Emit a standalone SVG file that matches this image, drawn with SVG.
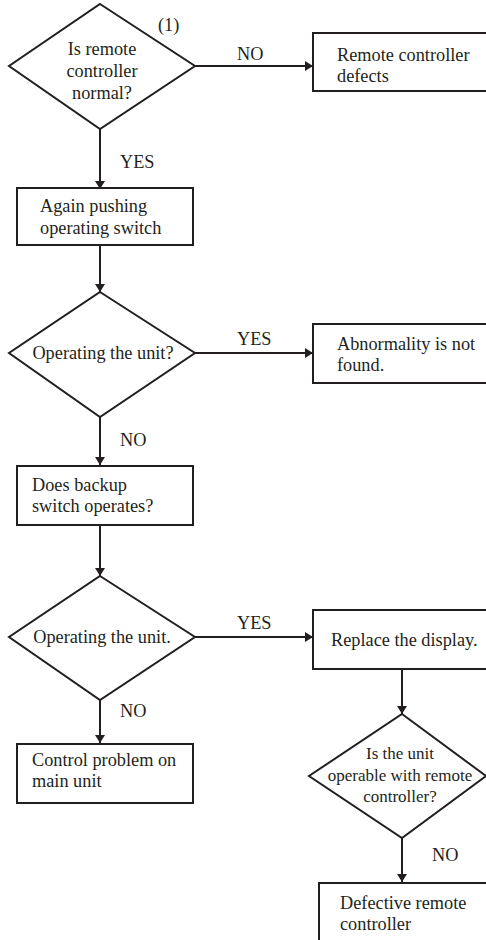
<svg xmlns="http://www.w3.org/2000/svg" width="486" height="940" viewBox="0 0 486 940">
<style>
.n{fill:#fff;stroke:#231f20;stroke-width:2}
.t{font-family:"Liberation Serif","Times New Roman",serif;font-size:18.3px;fill:#231f20}
.s{font-size:17px}
.m{text-anchor:middle}
.c{stroke:#231f20;stroke-width:2;fill:none;marker-end:url(#a)}
</style>
<defs>
<marker id="a" markerWidth="8" markerHeight="12" refX="8" refY="6" orient="auto" markerUnits="userSpaceOnUse">
<path d="M0,1 L8,6 L0,11 Z" fill="#231f20"/>
</marker>
</defs>
<rect width="486" height="940" fill="#fff"/>
<g id="connectors">
<path class="c" d="M100,129 V189"/>
<path class="c" d="M195,66 H313"/>
<path class="c" d="M100,245 V292"/>
<path class="c" d="M195,353 H313"/>
<path class="c" d="M100,417 V465"/>
<path class="c" d="M100,525 V576"/>
<path class="c" d="M195,637 H313"/>
<path class="c" d="M100,700 V743"/>
<path class="c" d="M402,669 V714"/>
<path class="c" d="M402,838 V882"/>
<text class="t" x="237" y="60">NO</text>
<text class="t" x="120" y="168">YES</text>
<text class="t" x="237" y="345">YES</text>
<text class="t" x="120" y="446">NO</text>
<text class="t" x="237" y="629">YES</text>
<text class="t" x="120" y="717">NO</text>
<text class="t" x="432" y="861">NO</text>
</g>
<g id="d1">
<path class="n" d="M100,4 L195,66 L100,129 L9,66 Z"/>
<text class="t" x="158" y="31">(1)</text>
<text class="t m" x="102" y="55">Is remote</text>
<text class="t m" x="102" y="77">controller</text>
<text class="t m" x="102" y="99">normal?</text>
</g>
<g id="b1">
<rect class="n" x="313" y="33" width="180" height="58"/>
<text class="t" x="337" y="61">Remote controller</text>
<text class="t" x="337" y="82">defects</text>
</g>
<g id="b2">
<rect class="n" x="17" y="188" width="176" height="57"/>
<text class="t" x="40" y="212">Again pushing</text>
<text class="t" x="40" y="234">operating switch</text>
</g>
<g id="d2">
<path class="n" d="M100,292 L195,353 L100,417 L9,353 Z"/>
<text class="t m" x="103" y="359">Operating the unit?</text>
</g>
<g id="b3">
<rect class="n" x="313" y="324" width="180" height="59"/>
<text class="t" x="337" y="350">Abnormality is not</text>
<text class="t" x="337" y="371">found.</text>
</g>
<g id="b4">
<rect class="n" x="17" y="466" width="176" height="59"/>
<text class="t" x="32" y="491">Does backup</text>
<text class="t" x="32" y="512">switch operates?</text>
</g>
<g id="d3">
<path class="n" d="M100,576 L195,637 L100,700 L9,637 Z"/>
<text class="t m" x="102" y="643">Operating the unit.</text>
</g>
<g id="b5">
<rect class="n" x="313" y="610" width="180" height="59"/>
<text class="t" x="331" y="646">Replace the display.</text>
</g>
<g id="b6">
<rect class="n" x="17" y="744" width="176" height="59"/>
<text class="t" x="32" y="766">Control problem on</text>
<text class="t" x="32" y="787">main unit</text>
</g>
<g id="d4">
<path class="n" d="M402,714 L486,776 L402,838 L309,776 Z"/>
<text class="t s m" x="400" y="759">Is the unit</text>
<text class="t s m" x="400" y="781">operable with remote</text>
<text class="t s m" x="400" y="802">controller?</text>
</g>
<g id="b7">
<rect class="n" x="319" y="883" width="180" height="70"/>
<text class="t" x="340" y="909">Defective remote</text>
<text class="t" x="340" y="930">controller</text>
</g>
</svg>
